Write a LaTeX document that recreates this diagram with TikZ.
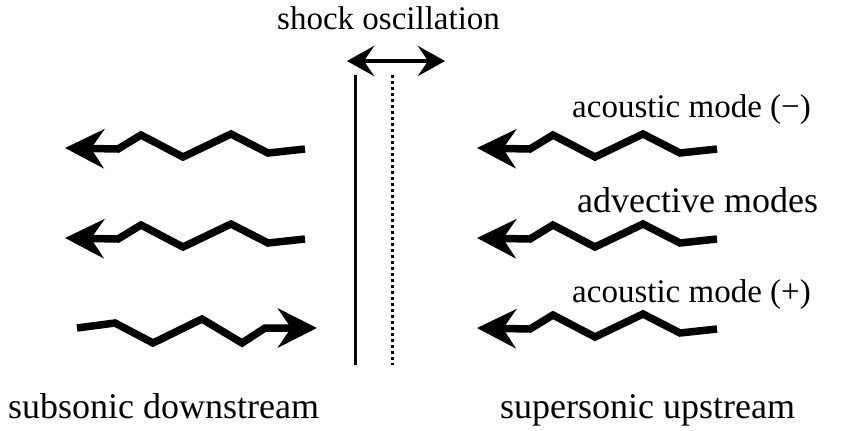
\documentclass[tikz,border=0pt]{standalone}
\usepackage{fontspec}
\setmainfont{Liberation Serif}
\usetikzlibrary{arrows.meta}
\tikzset{
  wave/.style={line width=7.5pt, line join=miter, -{Stealth[length=39pt 0 0, width=39pt 0, inset=13pt 0]}},
  lbl/.style={anchor=base west, inner sep=0pt, font=\fontsize{33}{36}\selectfont},
  lblb/.style={anchor=base west, inner sep=0pt, font=\fontsize{36}{40}\selectfont},
}
\begin{document}
\begin{tikzpicture}[x=1pt, y=-1pt]
\useasboundingbox (0,0) rectangle (841,431);
% shock lines
\coordinate (s1) at (355,75);
\coordinate (s2) at (355,365);
\coordinate (d1) at (392,75);
\coordinate (d2) at (392,365);
\draw[line width=3pt] (s1) -- (s2);
\draw[line width=3pt, dash pattern=on 3pt off 3pt] (d1) -- (d2);
\coordinate (oa) at (347,61);
\coordinate (ob) at (445,61);
\draw[line width=4.5pt, {Stealth[length=27pt 0 0, width=30pt 0, inset=10pt 0]}-{Stealth[length=27pt 0 0, width=30pt 0, inset=10pt 0]}] (oa) -- (ob);
\node[lbl] (osc) at (277,29) {shock oscillation};
% left-going waves
\foreach \n/\x/\y in {a/65/148, b/65/238, c/477/148, d/477/238, e/477/328}{
  \coordinate (t\n) at (\x,\y);
  \draw[wave] ([shift={(240,1)}]t\n) -- ([shift={(203,5)}]t\n) -- ([shift={(166,-14)}]t\n) -- ([shift={(118,9)}]t\n) -- ([shift={(76,-13)}]t\n) -- ([shift={(53,1)}]t\n) -- (t\n);
}
% right-going wave
\coordinate (tf) at (317,328);
\draw[wave] ([shift={(-240,0)}]tf) -- ([shift={(-202,-5)}]tf) -- ([shift={(-164,15)}]tf) -- ([shift={(-115,-9)}]tf) -- ([shift={(-75,15)}]tf) -- ([shift={(-52,0)}]tf) -- (tf);
\node[lbl] (am) at (572,117) {acoustic mode (−)};
\node[lblb] (adv) at (577,212) {advective modes};
\node[lbl] (ap) at (572,302) {acoustic mode (+)};
\node[lblb] (sub) at (8,418) {subsonic downstream};
\node[lblb] (sup) at (500,418) {supersonic upstream};
\end{tikzpicture}
\end{document}
